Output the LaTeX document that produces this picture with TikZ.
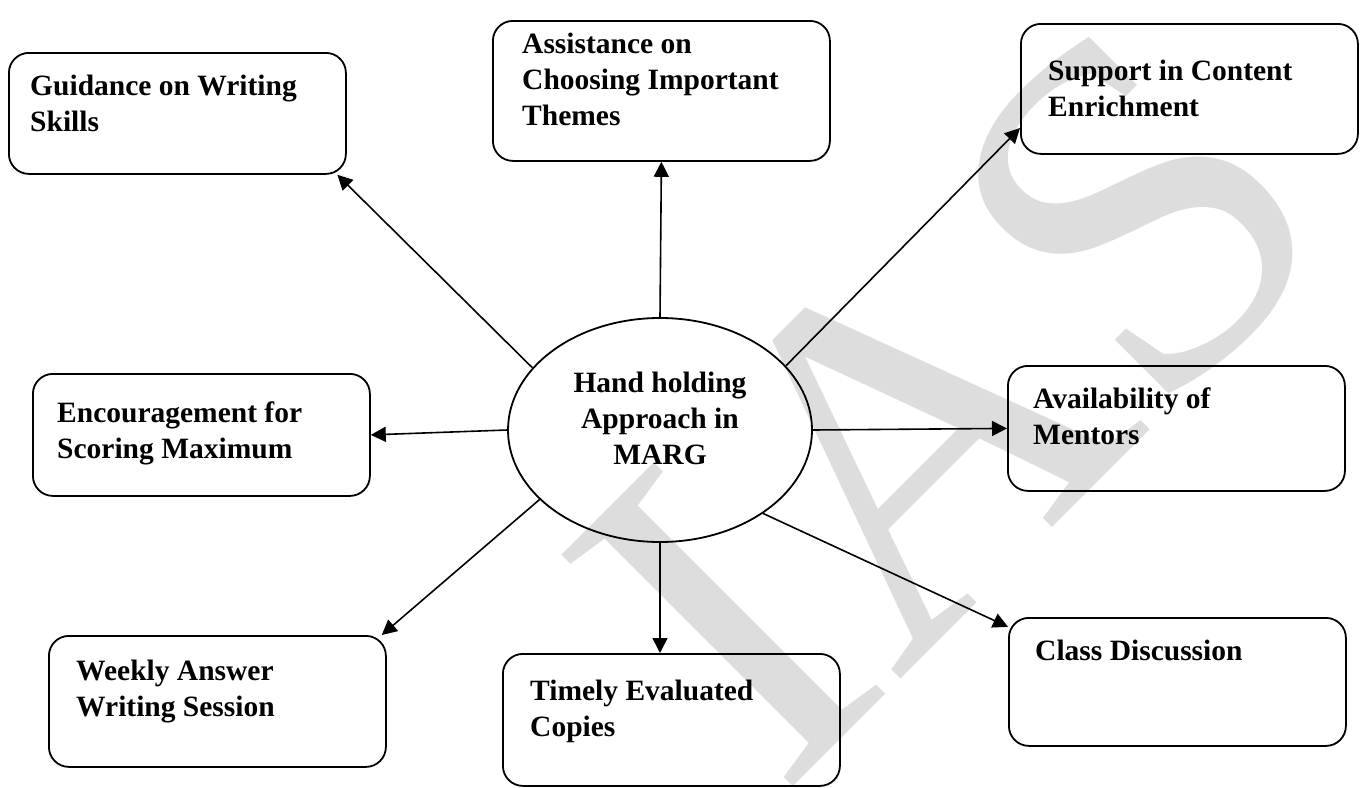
\documentclass[tikz,border=0pt]{standalone}
\usepackage{fontspec}
\setmainfont{Liberation Serif}
\usetikzlibrary{arrows.meta}
\usetikzlibrary{shapes.geometric}

\definecolor{markgray}{RGB}{221,221,221}

\tikzset{
  topic/.style={draw, line width=1.8pt, rounded corners=20pt, anchor=north west, minimum width=337pt},
  topictext/.style={anchor=north west, inner sep=0pt, align=left, font=\bfseries\fontsize{29.5}{36}\selectfont},
  spoke/.style={line width=1.6pt, -{Triangle[length=15pt,width=15pt]}}
}

\begin{document}
\begin{tikzpicture}[x=1pt, y=-1pt]
	\useasboundingbox (0,0) rectangle (1362,787);
	\clip (0,0) rectangle (1362,787);

	% watermark behind everything
	\node[rotate=45, anchor=base west, inner sep=0pt, text=markgray, font=\fontsize{500}{500}\selectfont] (mark) at (780,800) {IAS};

	% centre
	\node[draw, ellipse, line width=1.8pt, minimum width=304pt, minimum height=224pt, inner sep=0pt] (hub) at (660,430) {};
	\node[topictext, anchor=north, align=center] (hub-t) at (660,372) {Hand holding\\Approach in\\MARG};

	% boxes round it
	\node[topic, minimum height=121pt] (guid) at (8,52) {};
	\node[topictext] (guid-t) at (30,75) {Guidance on Writing\\Skills};

	\node[topic, minimum height=140pt] (assist) at (492,20) {};
	\node[topictext] (assist-t) at (522,33) {Assistance on\\Choosing Important\\Themes};

	\node[topic, minimum height=130pt] (supp) at (1020,23) {};
	\node[topictext] (supp-t) at (1048,60) {Support in Content\\Enrichment};

	\node[topic, minimum height=122pt] (enc) at (32,373) {};
	\node[topictext] (enc-t) at (57,402) {Encouragement for\\Scoring Maximum};

	\node[topic, minimum height=125pt] (avail) at (1007,365) {};
	\node[topictext] (avail-t) at (1033,388) {Availability of\\Mentors};

	\node[topic, minimum height=131pt] (week) at (48,635) {};
	\node[topictext] (week-t) at (76,660) {Weekly Answer\\Writing Session};

	\node[topic, minimum height=132pt] (timely) at (502,653) {};
	\node[topictext] (timely-t) at (530,680) {Timely Evaluated\\Copies};

	\node[topic, minimum height=128pt] (class) at (1008,617) {};
	\node[topictext] (class-t) at (1035,640) {Class Discussion};

	% spokes
	\draw[spoke] (hub.154.9) -- (guid.-21.6);
	\draw[spoke] (hub.north) -- (assist.south);
	\draw[spoke] (hub.27.5) -- (supp.193.8);
	\draw[spoke] (hub.west) -- (enc.east);
	\draw[spoke] (hub.east) -- (avail.west);
	\draw[spoke] (hub.210.9) -- (week.22.2);
	\draw[spoke] (hub.south) -- (hub.south |- timely.north);
	\draw[spoke] (hub.-39.5) -- (class.162.8);
\end{tikzpicture}
\end{document}
